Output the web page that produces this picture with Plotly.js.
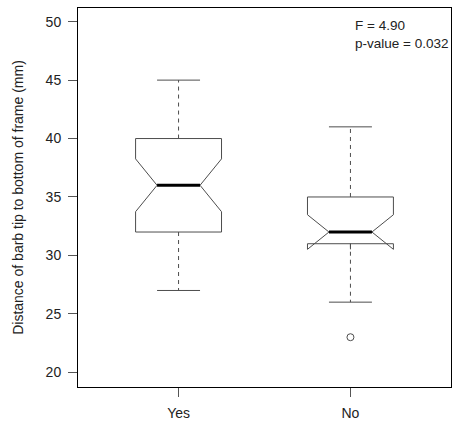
<!DOCTYPE html>
<html>
<head>
<meta charset="utf-8">
<script src="https://cdn.plot.ly/plotly-3.0.1.min.js"></script>
<style>html,body{margin:0;padding:0;background:#fff;}#chart{width:454px;height:427px;}</style>
</head>
<body>
<div id="chart"></div>
<script>
// Data
var categories = ["Yes", "No"];
var positions = [1, 2];
var q1 = [32, 31];
var median = [36, 32];
var q3 = [40, 35];
var whiskerLow = [27, 26];
var whiskerHigh = [45, 41];
var notchHalf = [2.26, 1.48];
var outlierGroup = [2];
var outlierValue = [23];
var statText = ["F = 4.90", "p-value = 0.032"];

var boxHalf = 0.25, capHalf = 0.125;
var boxColor = "#4d4d4d";

var traces = [];
traces.push({
  type: "box", x: positions, q1: q1, median: median, q3: q3,
  lowerfence: q1, upperfence: q3,
  notched: true, notchspan: notchHalf, notchwidth: 0.25,
  width: boxHalf * 2, boxpoints: false, whiskerwidth: 0,
  line: {color: boxColor, width: 1}, fillcolor: "rgba(0,0,0,0)",
  hoverinfo: "skip", showlegend: false
});

var wx = [], wy = [], cx = [], cy = [], mx = [], my = [];
for (var i = 0; i < positions.length; i++) {
  var p = positions[i];
  wx.push(p, p, null, p, p, null);
  wy.push(q3[i], whiskerHigh[i], null, q1[i], whiskerLow[i], null);
  cx.push(p - capHalf, p + capHalf, null, p - capHalf, p + capHalf, null);
  cy.push(whiskerHigh[i], whiskerHigh[i], null, whiskerLow[i], whiskerLow[i], null);
  mx.push(p - capHalf, p + capHalf, null);
  my.push(median[i], median[i], null);
}
traces.push({type: "scatter", mode: "lines", x: wx, y: wy,
  line: {color: boxColor, width: 1, dash: "4px,4px"}, hoverinfo: "skip", showlegend: false});
traces.push({type: "scatter", mode: "lines", x: cx, y: cy,
  line: {color: boxColor, width: 1}, hoverinfo: "skip", showlegend: false});
traces.push({type: "scatter", mode: "lines", x: mx, y: my,
  line: {color: "#000", width: 3}, hoverinfo: "skip", showlegend: false});
traces.push({type: "scatter", mode: "markers", x: outlierGroup, y: outlierValue,
  marker: {symbol: "circle-open", size: 7, color: boxColor, line: {width: 1}},
  hoverinfo: "skip", showlegend: false});

var font = {family: "Liberation Sans, Arial, sans-serif", size: 14, color: "#222"};

var layout = {
  width: 454, height: 427,
  margin: {l: 78, r: 3, t: 8, b: 40},
  paper_bgcolor: "#fff", plot_bgcolor: "#fff",
  font: font,
  showlegend: false,
  xaxis: {
    range: [0.415, 2.585], tickvals: positions, ticktext: categories,
    showgrid: false, zeroline: false, showline: true, mirror: true,
    linecolor: "#000", linewidth: 1,
    ticks: "outside", ticklen: 9, tickcolor: "#555", tickwidth: 1,
    tickfont: font, ticklabelstandoff: 4
  },
  yaxis: {
    range: [18.74, 51.17], tickvals: [20, 25, 30, 35, 40, 45, 50],
    showgrid: false, zeroline: false, showline: true, mirror: true,
    linecolor: "#000", linewidth: 1,
    ticks: "outside", ticklen: 9, tickcolor: "#555", tickwidth: 1,
    tickfont: font, ticklabelstandoff: 4,
    title: {text: "Distance of barb tip to bottom of frame (mm)", font: font, standoff: 18}
  },
  annotations: [{
    xref: "paper", yref: "paper", x: 0.736, y: 0.98, xanchor: "left", yanchor: "top",
    text: statText.join("<br>"), align: "left", showarrow: false,
    font: {family: font.family, size: 13.5, color: "#222"}
  }]
};

Plotly.newPlot("chart", traces, layout, {displayModeBar: false, staticPlot: true});
</script>
</body>
</html>
